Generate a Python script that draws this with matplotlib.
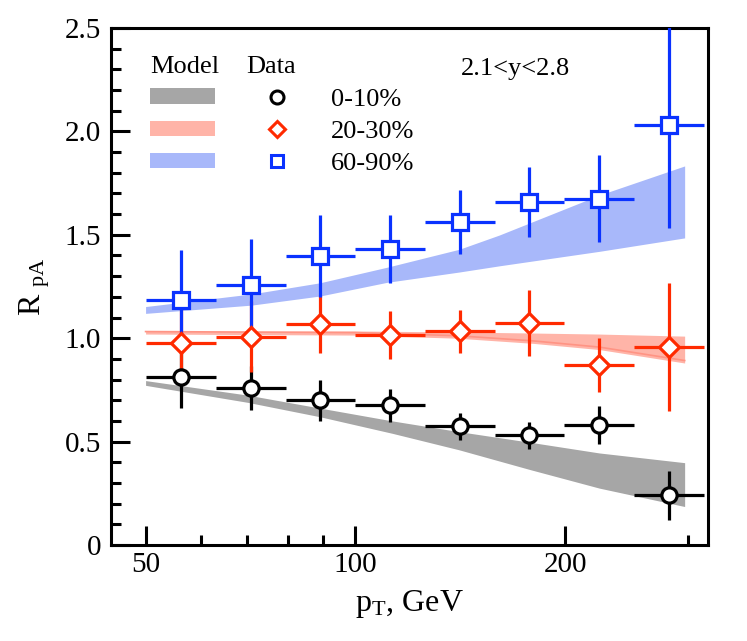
import matplotlib
matplotlib.use('Agg')
import matplotlib.pyplot as plt
from matplotlib.patches import Patch
from matplotlib.lines import Line2D
from matplotlib.ticker import FixedLocator, FuncFormatter, NullFormatter
import numpy as np

plt.rcParams['font.family'] = ['Liberation Serif', 'DejaVu Serif']
plt.rcParams['mathtext.fontset'] = 'custom'
plt.rcParams['mathtext.rm'] = 'Liberation Serif'
plt.rcParams['mathtext.it'] = 'Liberation Serif:italic'

# pT bins (GeV)
pt_lo = np.array([50.0, 63.1, 79.4, 100.0, 125.9, 158.5, 199.5, 251.2])
pt_hi = np.array([63.1, 79.4, 100.0, 125.9, 158.5, 199.5, 251.2, 316.2])
pt = np.sqrt(pt_lo * pt_hi)

# data, 2.1<y<2.8
r_0_10 = [0.81, 0.76, 0.70, 0.675, 0.575, 0.53, 0.58, 0.24]
e_0_10 = [0.15, 0.105, 0.10, 0.08, 0.065, 0.065, 0.09, 0.12]
r_20_30 = [0.975, 1.008, 1.07, 1.015, 1.033, 1.075, 0.872, 0.958]
e_20_30 = [0.18, 0.17, 0.14, 0.115, 0.105, 0.16, 0.13, 0.31]
r_60_90 = [1.185, 1.258, 1.398, 1.43, 1.562, 1.658, 1.675, 2.032]
e_60_90 = [0.24, 0.22, 0.20, 0.165, 0.157, 0.17, 0.21, 0.50]

# model bands
pt_gray = [50, 70, 89, 113, 141, 178, 224, 297]
gray_hi = [0.795, 0.725, 0.662, 0.60, 0.548, 0.497, 0.445, 0.398]
gray_lo = [0.772, 0.69, 0.62, 0.54, 0.46, 0.365, 0.275, 0.186]
pt_red = [50, 100, 140, 180, 224, 297]
red_hi = [1.033, 1.035, 1.03, 1.025, 1.02, 1.01]
red_lo = [1.02, 1.015, 1.0, 0.975, 0.945, 0.88]
pt_blue = [50, 71, 89, 111, 141, 161, 224, 297]
blue_hi = [1.153, 1.214, 1.268, 1.343, 1.43, 1.499, 1.692, 1.833]
blue_lo = [1.12, 1.16, 1.204, 1.27, 1.32, 1.35, 1.42, 1.485]

c_black = '#000000'
c_red = '#ff2a00'
c_blue = '#0a32ff'
band_gray = '#a6a6a6'
band_red = '#ffb4a8'
band_blue = '#a8b8fa'

fig = plt.figure(figsize=(7.47, 6.41), dpi=100)
ax = fig.add_axes([0.1486, 0.1498, 0.7994, 0.8065])
ax.set_xscale('log')

ax.fill_between(pt_gray, gray_lo, gray_hi, color=band_gray, lw=0, zorder=1)
ax.fill_between(pt_red, red_lo, red_hi, color=band_red, lw=0, zorder=1)
ax.plot(pt_red, np.array(red_lo) + 0.012, color='#ff9484', lw=1.2, zorder=1)
ax.fill_between(pt_blue, blue_lo, blue_hi, color=band_blue, lw=0, zorder=1)

xerr = [pt - pt_lo, pt_hi - pt]
series = [(r_0_10, e_0_10, c_black, 'o', 11, '0-10%', 3),
          (r_20_30, e_20_30, c_red, 'D', 10, '20-30%', 4),
          (r_60_90, e_60_90, c_blue, 's', 11, '60-90%', 5)]
for r, e, c, m, ms, lab, z in series:
    ax.errorbar(pt, r, xerr=xerr, yerr=e, fmt='none', ecolor=c,
                elinewidth=2.3, capsize=0, zorder=z)
    ax.plot(pt, r, ls='none', marker=m, ms=ms, mfc='white', mec=c,
            mew=2.3, zorder=10)

ax.set_xlim(44.6, 321)
ax.set_ylim(0, 2.5)

ax.xaxis.set_major_locator(FixedLocator([50, 100, 200]))
ax.xaxis.set_major_formatter(FuncFormatter(lambda v, p: f'{v:.0f}'))
ax.xaxis.set_minor_locator(FixedLocator([60, 70, 80, 90, 300]))
ax.xaxis.set_minor_formatter(NullFormatter())
ax.yaxis.set_major_locator(FixedLocator(np.arange(0, 2.51, 0.5)))
ax.yaxis.set_minor_locator(FixedLocator(np.arange(0, 2.51, 0.1)))
ax.yaxis.set_major_formatter(FuncFormatter(lambda v, p: '0' if v == 0 else f'{v:.1f}'))

ax.tick_params(which='both', direction='in', width=2.2, top=False, right=False,
               labelsize=21, color='black')
ax.tick_params(which='major', length=13.5)
ax.tick_params(which='minor', length=7)
ax.tick_params(axis='x', pad=5)
ax.tick_params(axis='y', pad=7)
for s in ax.spines.values():
    s.set_linewidth(2.2)

ax.set_xlabel('p$_{\\rm T}$, GeV', fontsize=23, labelpad=7)
ax.set_ylabel('R $_{\\rm pA}$', fontsize=23, labelpad=9)

ax.text(0.677, 0.91, '2.1<y<2.8', transform=ax.transAxes, fontsize=19,
        ha='center', va='baseline')
ax.text(0.0653, 0.913, 'Model', transform=ax.transAxes, fontsize=19,
        ha='left', va='baseline')
ax.text(0.2261, 0.913, 'Data', transform=ax.transAxes, fontsize=19,
        ha='left', va='baseline')

# legends
model_handles = [Patch(color=band_gray, lw=0), Patch(color=band_red, lw=0),
                 Patch(color=band_blue, lw=0)]
leg1 = ax.legend(model_handles, ['', '', ''], frameon=False,
                 loc='upper left', bbox_to_anchor=(0.0653, 0.883),
                 fontsize=19, handlelength=2.45, handleheight=0.55,
                 labelspacing=0.37, handletextpad=0, borderpad=0,
                 borderaxespad=0)
ax.add_artist(leg1)
data_handles = [Line2D([], [], ls='none', marker=m, ms=ms * 0.85, mfc='white',
                       mec=c, mew=2.2) for r, e, c, m, ms, lab, z in series]
ax.legend(data_handles, [s[5] for s in series], frameon=False,
          loc='upper left', bbox_to_anchor=(0.2271, 0.883),
          fontsize=19, handlelength=2.3, handleheight=0.55, labelspacing=0.37,
          handletextpad=0.9, borderpad=0, borderaxespad=0)

fig.savefig('out.png', dpi=100)
